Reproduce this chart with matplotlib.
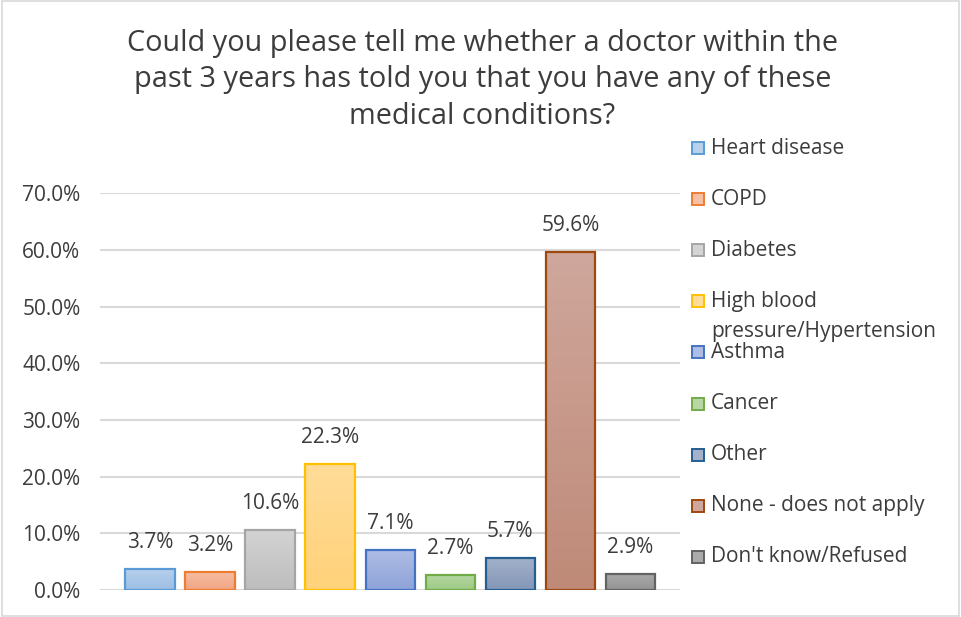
import numpy as np
import matplotlib.pyplot as plt
from matplotlib.patches import Rectangle
from matplotlib.colors import LinearSegmentedColormap
from matplotlib.ticker import PercentFormatter

plt.rcParams['font.family'] = ['Open Sans', 'DejaVu Sans']

# Survey answers (share of respondents, %)
categories = ["Heart disease", "COPD", "Diabetes", "High blood\npressure/Hypertension",
              "Asthma", "Cancer", "Other", "None - does not apply", "Don't know/Refused"]
values = [3.7, 3.2, 10.6, 22.3, 7.1, 2.7, 5.7, 59.6, 2.9]
yticks = [0, 10, 20, 30, 40, 50, 60, 70]

title = ("Could you please tell me whether a doctor within the\n"
         "past 3 years has told you that you have any of these\n"
         "medical conditions?")

# edge colour and gradient (top, bottom) per series
edge_colors = ["#5B9BD5", "#ED7D31", "#A5A5A5", "#FFC000", "#4472C4",
               "#70AD47", "#255E91", "#9E480E", "#636363"]
top_colors = ["#B7D0EC", "#F7BFA4", "#D4D4D4", "#FFDC98", "#AEBDE4",
              "#B7D8A4", "#A3B1CA", "#CFA79C", "#ABABAB"]
bot_colors = ["#9CBEE4", "#F1A583", "#BDBDBD", "#FFD27A", "#8EA3D8",
              "#9BC984", "#8497B7", "#BF8A78", "#939393"]

txt = "#3C3C3C"

fig = plt.figure(figsize=(9.61, 6.17), dpi=100)
ax = fig.add_axes([0.104, 0.0438, 0.604, 0.643])

x = np.arange(len(values))
bars = ax.bar(x, values, width=0.82, color="none", edgecolor=edge_colors,
              linewidth=1.6, zorder=3)

grad = np.linspace(0, 1, 256).reshape(-1, 1)
for b, c1, c2 in zip(bars, top_colors, bot_colors):
    cmap = LinearSegmentedColormap.from_list("g", [c1, c2])
    x0, y0 = b.get_x(), b.get_y()
    w, h = b.get_width(), b.get_height()
    im = ax.imshow(grad, cmap=cmap, aspect="auto", extent=(x0, x0 + w, y0, y0 + h),
                   origin="upper", zorder=2)
    im.set_clip_path(b)

for xi, v in zip(x, values):
    ax.annotate(f"{v:.1f}%", (xi, v), xytext=(0, 19), textcoords="offset points",
                ha="center", va="center", fontsize=15, color=txt)

ax.set_xlim(-0.833, 8.833)
ax.set_ylim(0, 70)
ax.set_yticks(yticks)
ax.yaxis.set_major_formatter(PercentFormatter(decimals=1))
ax.set_xticks([])
ax.tick_params(axis="y", length=0, labelsize=15, labelcolor=txt, pad=14)
ax.grid(axis="y", color="#D9D9D9", linewidth=1.5, zorder=0)
ax.set_axisbelow(True)
for s in ax.spines.values():
    s.set_visible(False)

fig.text(0.502, 1 - 80 / 617, title, ha="center", va="center", fontsize=20.8,
         color=txt, linespacing=1.36)

# legend drawn by hand so the wrapped label overlaps like the original
for i, (lab, ec, fc) in enumerate(zip(categories, edge_colors, top_colors)):
    ycen = 1 - (148 + 51.1 * i) / 617
    fig.patches.append(Rectangle((692 / 961, ycen - 6 / 617), 12 / 961, 12 / 617,
                                 transform=fig.transFigure, facecolor=fc,
                                 edgecolor=ec, linewidth=1.4))
    if "\n" in lab:
        first, second = lab.split("\n")
        fig.text(711 / 961, ycen, first, ha="left", va="center", fontsize=15, color=txt)
        fig.text(711 / 961, ycen - 30 / 617, second, ha="left", va="center",
                 fontsize=15, color=txt)
    else:
        fig.text(711 / 961, ycen, lab, ha="left", va="center", fontsize=15, color=txt)

fig.patches.append(Rectangle((0.002, 0.002), 0.996, 0.996, transform=fig.transFigure,
                             facecolor="none", edgecolor="#D9D9D9", linewidth=1.2))

fig.savefig("out.png", dpi=100)
